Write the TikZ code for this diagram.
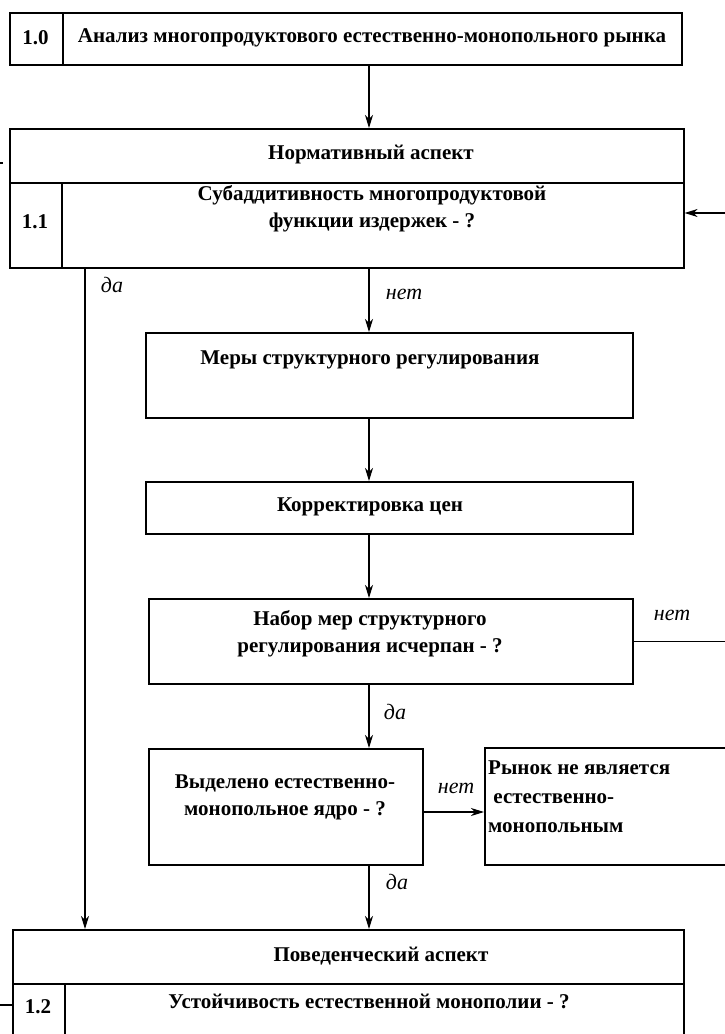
\documentclass[tikz,border=0pt]{standalone}
\usepackage{fontspec}
\setmainfont{Liberation Serif}
\usetikzlibrary{arrows.meta,calc}
\begin{document}
\begin{tikzpicture}[x=1pt,y=-1pt,
  box/.style={draw, line width=1.6pt, rectangle, inner sep=0pt, anchor=north west},
  conn/.style={draw, line width=1.1pt, -{Stealth[length=13pt,width=8pt,inset=4pt]}},
  plain/.style={draw, line width=1.1pt},
  txt/.style={font=\bfseries\fontsize{21}{27}\selectfont, inner sep=0pt, align=center},
  lbl/.style={font=\itshape\fontsize{22}{26}\selectfont, inner sep=0pt},
]
\useasboundingbox (0,0) rectangle (724,1034);
% boxes
\node[box, minimum width=53pt, minimum height=52pt] (n10) at (9,12) {};
\node[box, minimum width=619pt, minimum height=52pt] (b10) at (62,12) {};
\node[box, minimum width=674pt, minimum height=54pt] (normhead) at (9,128) {};
\node[box, minimum width=52pt, minimum height=85pt] (n11) at (9,182) {};
\node[box, minimum width=622pt, minimum height=85pt] (sub11) at (61,182) {};
\node[box, minimum width=487pt, minimum height=85pt] (mery) at (145,332) {};
\node[box, minimum width=487pt, minimum height=52pt] (korr) at (145,481) {};
\node[box, minimum width=484pt, minimum height=85pt] (nabor) at (148,598) {};
\node[box, minimum width=274pt, minimum height=116pt] (vyd) at (148,748) {};
\node[box, minimum width=260pt, minimum height=117pt] (rynok) at (484,747) {};
\node[box, minimum width=671pt, minimum height=54pt] (povhead) at (12,929) {};
\node[box, minimum width=52pt, minimum height=80pt] (n12) at (12,983) {};
\node[box, minimum width=619pt, minimum height=80pt] (sub12) at (64,983) {};
% texts
\node[txt] (t10) at (35.5,38) {1.0};
\node[txt] (tb10) at (372,38) {Анализ многопродуктового естественно-монопольного рынка};
\node[txt] (tnorm) at (371,155) {Нормативный аспект};
\node[txt] (tsub11) at (372,209) {Субаддитивность многопродуктовой\\функции издержек - ?};
\node[txt] (t11) at (35,222) {1.1};
\node[txt] (tmery) at (370,360) {Меры структурного регулирования};
\node[txt] (tkorr) at (370,507) {Корректировка цен};
\node[txt] (tnabor) at (370,634) {Набор мер структурного\\регулирования исчерпан - ?};
\node[txt] (tvyd) at (285,797) {Выделено естественно-\\монопольное ядро - ?};
\node[txt, align=left, anchor=north west, font=\bfseries\fontsize{21}{29}\selectfont] (trynok) at (488,761) {Рынок не является\\\ естественно-\\монопольным};
\node[txt] (tpov) at (381,956) {Поведенческий аспект};
\node[txt] (tsub12) at (369,1001) {Устойчивость естественной монополии - ?};
\node[txt] (t12) at (38,1007) {1.2};
% labels
\node[lbl] (lda1) at (112,285) {да};
\node[lbl] (lnet1) at (404,294) {нет};
\node[lbl] (lnet2) at (672,615) {нет};
\node[lbl] (lda2) at (395,712) {да};
\node[lbl] (lnet3) at (456,788) {нет};
\node[lbl] (lda3) at (397,882) {да};
% helper coordinates
\coordinate (cx) at (369,0);
\coordinate (lx) at (85,0);
\coordinate (fbx) at (740,0);
\coordinate (fby) at (0,213);
\coordinate (vy) at (0,812);
\coordinate (tk1a) at (-4,163);
\coordinate (tk1b) at (3,163);
\coordinate (tk2a) at (-4,1005);
% connectors
\draw[conn] (b10.south -| cx) -- (normhead.north -| cx);
\draw[conn] (sub11.south -| cx) -- (mery.north -| cx);
\draw[conn] (mery.south -| cx) -- (korr.north -| cx);
\draw[conn] (korr.south -| cx) -- (nabor.north -| cx);
\draw[conn] (nabor.south -| cx) -- (vyd.north -| cx);
\draw[conn] (vyd.south -| cx) -- (povhead.north -| cx);
\draw[conn] (sub11.south -| lx) -- (povhead.north -| lx);
\draw[conn] (vyd.east |- vy) -- (rynok.west |- vy);
\draw[conn] (nabor.east) -- (fbx |- nabor.east) -- (fbx |- fby) -- (sub11.east |- fby);
\draw[plain] (tk1a) -- (tk1b);
\draw[plain] (tk2a) -- (n12.west |- tk2a);
\end{tikzpicture}
\end{document}
